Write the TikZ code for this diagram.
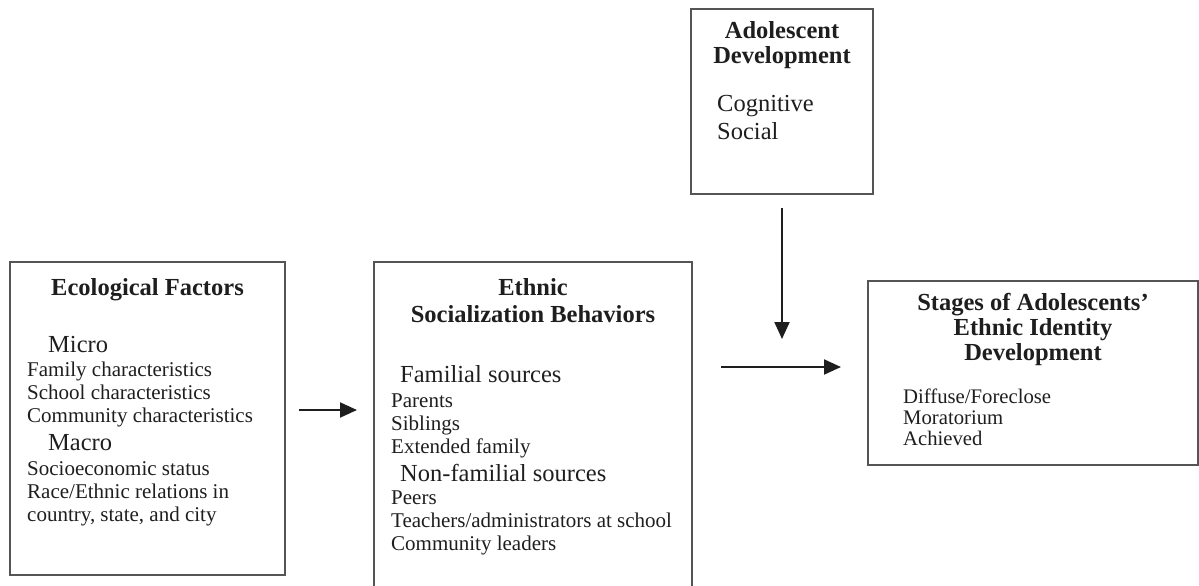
\documentclass[tikz,border=0pt]{standalone}
\usepackage{fontspec}
\setmainfont{Liberation Serif}
\usepackage{xcolor}
\usetikzlibrary{arrows.meta, positioning, calc}
\definecolor{boxgray}{HTML}{555555}
\definecolor{inkdark}{HTML}{1E1E1E}
\newcommand{\bodyfont}{\fontsize{21}{23}\selectfont}
\newcommand{\headfont}{\fontsize{24.5}{23}\selectfont}
\tikzset{
  frame/.style ={rectangle, draw=boxgray, line width=2pt, inner sep=0pt},
  title/.style ={anchor=north, align=center, inner sep=0pt, text=inkdark,
                 font=\fontsize{24.5}{25}\selectfont\bfseries},
  items/.style ={anchor=north west, align=left, inner sep=0pt, text=inkdark, font=\bodyfont},
  flow/.style  ={-{Triangle[length=17pt, width=15pt]}, draw=inkdark, line width=2pt},
}
\begin{document}
\begin{tikzpicture}[x=1pt, y=-1pt]
  \useasboundingbox (0,0) rectangle (1199,586);
  \clip (0,0) rectangle (1199,586);
  % boxes
  \node[frame, minimum width=275pt, minimum height=313pt] (eco)  at (147.5,418.5) {};
  \node[frame, minimum width=318pt, minimum height=340pt] (eth)  at (533,432)     {};
  \node[frame, minimum width=182pt, minimum height=185pt] (adol) at (782,101.5)   {};
  \node[frame, minimum width=330pt, minimum height=184pt] (stg)  at (1033,373)    {};
  % texts
  \node[title] (ecotitle)  at (147.5,278) {Ecological Factors};
  \node[items] (ecolist)   at (27,336)    {{\headfont\hspace*{21pt}Micro}\\[1pt]
      Family characteristics\\School characteristics\\Community characteristics\\[5pt]
      {\headfont\hspace*{21pt}Macro}\\[2pt]
      Socioeconomic status\\Race/Ethnic relations in\\country, state, and city};
  \node[title] (ethtitle)  at (533,278)   {Ethnic\\[2pt]Socialization Behaviors};
  \node[items] (ethlist)   at (391,365)   {{\headfont\hspace*{9pt}Familial sources}\\[2pt]
      Parents\\Siblings\\Extended family\\[5pt]
      {\headfont\hspace*{9pt}Non-familial sources}\\
      Peers\\Teachers/administrators at school\\Community leaders};
  \node[title] (adoltitle) at (782,21)    {Adolescent\\Development};
  \node[items, font=\headfont] (adollist) at (717,95) {Cognitive\\[5pt]Social};
  \node[title] (stgtitle)  at (1033,293)  {Stages of Adolescents'\\Ethnic Identity\\Development};
  \node[items, font=\fontsize{20.7}{21}\selectfont] (stglist) at (903,389)
      {Diffuse/Foreclose\\Moratorium\\Achieved};
  % arrows
  \draw[flow, shorten <=13pt, shorten >=16pt] ([yshift=8.5pt]eco.east) -- ([yshift=8.5pt]eco.east -| eth.west);
  \draw[flow, shorten <=28pt, shorten >=26pt] ([yshift=6pt]stg.west -| eth.east) -- coordinate (mid) ([yshift=6pt]stg.west);
  \draw[flow, shorten <=13pt, shorten >=28pt] (adol.south) -- (adol.south |- mid);
\end{tikzpicture}
\end{document}
